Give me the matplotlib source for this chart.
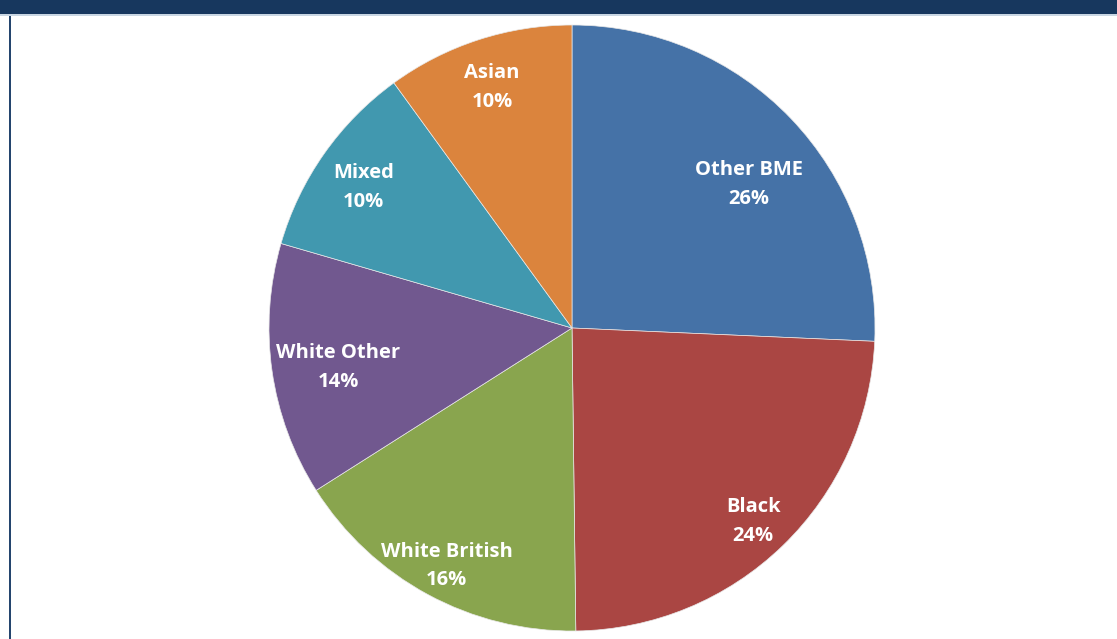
import numpy as np
import matplotlib
matplotlib.use("Agg")
from matplotlib import pyplot as plt
from matplotlib.patches import Rectangle

# Ethnic breakdown, clockwise from 12 o'clock
groups = ['Other BME', 'Black', 'White British', 'White Other', 'Mixed', 'Asian']
shares = [25.7, 24.1, 16.2, 13.5, 10.5, 10.0]
colours = ['#4572A7', '#AA4643', '#89A54E', '#71588F', '#4198AF', '#DB843D']
# label placement: distance from centre (fraction of radius) and turn off the mid-angle (deg)
label_r = [0.765, 0.86, 0.87, 0.78, 0.84, 0.855]
label_turn = [-3.6, 0, 0, 0, 0, 0]

W, H = 1117, 639
fig = plt.figure(figsize=(W / 100, H / 100), dpi=100)
fig.patch.set_facecolor('white')

# header band and left rule
fig.add_artist(Rectangle((0, 1 - 14 / H), 1, 14 / H, transform=fig.transFigure,
                         facecolor='#17375E', edgecolor='none'))
fig.add_artist(Rectangle((0, 1 - 15.5 / H), 1, 1.5 / H, transform=fig.transFigure,
                         facecolor='#C9D6E3', edgecolor='none'))
fig.add_artist(Rectangle((8.5 / W, 0), 2 / W, 1 - 15.5 / H, transform=fig.transFigure,
                         facecolor='#24456E', edgecolor='none'))

cx, cy, r = 572, 328, 303
ax = fig.add_axes(((cx - r) / W, (H - cy - r) / H, 2 * r / W, 2 * r / H))
wedges, _ = ax.pie(shares, colors=colours, startangle=90, counterclock=False,
                   radius=1, wedgeprops=dict(edgecolor='#E8E8E8', linewidth=0.5, clip_on=False))
ax.set_xlim(-1, 1)
ax.set_ylim(-1, 1)
ax.set_aspect('equal')

for w, name, val, lr, turn in zip(wedges, groups, shares, label_r, label_turn):
    mid = np.deg2rad((w.theta1 + w.theta2) / 2 + turn)
    ax.text(lr * np.cos(mid), lr * np.sin(mid) - 0.02, f'{name}\n{val:.0f}%',
            ha='center', va='center', color='white', fontsize=14.5,
            fontweight='bold', family='Open Sans', linespacing=1.58)

fig.savefig('out.png', dpi=100)
